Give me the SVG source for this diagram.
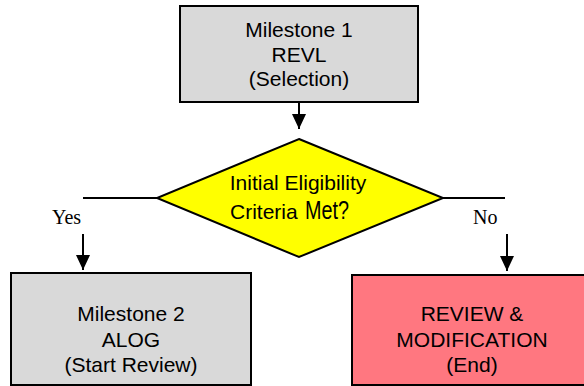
<svg xmlns="http://www.w3.org/2000/svg" width="584" height="386" viewBox="0 0 584 386">
<defs>
<style>
.box{stroke:#000;stroke-width:2}
.grey{fill:#d9d9d9}
.red{fill:#ff7780}
.dia{fill:#ffff00;stroke:#000;stroke-width:2}
.t{font-family:"Liberation Sans",Arial,sans-serif;font-size:21px;fill:#000;text-anchor:middle}
.s{font-family:"Liberation Serif","Times New Roman",serif;font-size:20px;fill:#000}
.c{fill:none;stroke:#000;stroke-width:2}
</style>
<marker id="ah" viewBox="0 0 15 14" refX="15" refY="7" markerWidth="15" markerHeight="14" markerUnits="userSpaceOnUse" orient="auto">
<path d="M0,0 L15,7 L0,14 z" fill="#000"/>
</marker>
</defs>
<g id="connectors">
<path class="c" d="M299 102 V129" marker-end="url(#ah)"/>
<path class="c" d="M157 198 H83"/>
<path class="c" d="M83 234 V270" marker-end="url(#ah)"/>
<path class="c" d="M443 198 H505"/>
<path class="c" d="M507 234 V271" marker-end="url(#ah)"/>
<text class="s" x="52" y="224">Yes</text>
<text class="s" x="473" y="224">No</text>
</g>
<g id="milestone1">
<rect class="box grey" x="180" y="6" width="238" height="96"/>
<text class="t" x="299" y="37">Milestone 1</text>
<text class="t" x="299" y="62">REVL</text>
<text class="t" x="299" y="86">(Selection)</text>
</g>
<g id="decision">
<polygon class="dia" points="299,139 443,198 299,257 157,198"/>
<text class="t" x="298" y="190">Initial Eligibility</text>
<text class="t" x="230" y="219" style="text-anchor:start">Criteria</text>
<text class="t" x="305" y="219" style="text-anchor:start;font-size:26px" textLength="44" lengthAdjust="spacingAndGlyphs">Met?</text>
</g>
<g id="milestone2">
<rect class="box grey" x="11" y="273" width="240" height="112"/>
<text class="t" x="131" y="321">Milestone 2</text>
<text class="t" x="131" y="347">ALOG</text>
<text class="t" x="131" y="372">(Start Review)</text>
</g>
<g id="review">
<rect class="box red" x="352" y="275" width="240" height="110"/>
<text class="t" x="472" y="321">REVIEW &amp;</text>
<text class="t" x="472" y="347">MODIFICATION</text>
<text class="t" x="472" y="372">(End)</text>
</g>
</svg>
